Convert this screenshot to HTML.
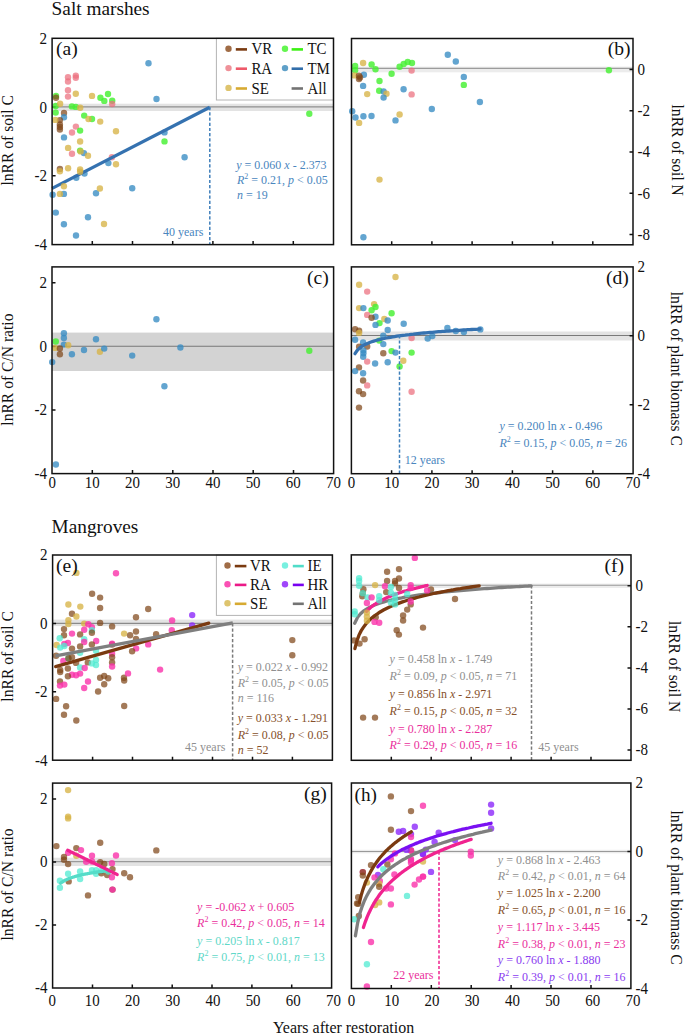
<!DOCTYPE html><html><head><meta charset="utf-8"><style>html,body{margin:0;padding:0;background:#fff;overflow:hidden}svg{display:block}</style></head><body>
<svg width="685" height="1034" viewBox="0 0 685 1034" style="font-family:'Liberation Serif',serif;font-size:16px" fill="#111">
<rect width="685" height="1034" fill="#fff"/>
<rect x="52.1" y="103.7" width="281.4" height="7.3" fill="#e3e3e3"/>
<line x1="52.1" y1="106.9" x2="333.5" y2="106.9" stroke="#8f8f8f" stroke-width="1.1"/>
<path d="M92.3 244.6v-3.5 M132.5 244.6v-3.5 M172.7 244.6v-3.5 M212.9 244.6v-3.5 M253.1 244.6v-3.5 M293.3 244.6v-3.5 M52.1 107.1h3.5 M52.1 175.8h3.5" stroke="#111" stroke-width="1.5" fill="none"/>
<circle cx="68" cy="77.3" r="3.2" fill="rgba(236,110,125,0.72)"/>
<circle cx="68" cy="81.5" r="3.2" fill="rgba(236,110,125,0.72)"/>
<circle cx="75.8" cy="75.6" r="3.2" fill="rgba(236,110,125,0.72)"/>
<circle cx="75.8" cy="77.8" r="3.2" fill="rgba(236,110,125,0.72)"/>
<circle cx="68" cy="90.2" r="3.2" fill="rgba(236,110,125,0.72)"/>
<circle cx="68" cy="96.6" r="3.2" fill="rgba(236,110,125,0.72)"/>
<circle cx="100.4" cy="97.8" r="3.2" fill="rgba(70,240,50,0.82)"/>
<circle cx="104.3" cy="100.9" r="3.2" fill="rgba(70,240,50,0.82)"/>
<circle cx="108" cy="94" r="3.2" fill="rgba(70,240,50,0.82)"/>
<circle cx="112.2" cy="100.8" r="3.2" fill="rgba(70,240,50,0.82)"/>
<circle cx="112.2" cy="104" r="3.2" fill="rgba(236,110,125,0.72)"/>
<circle cx="56" cy="95.9" r="3.2" fill="rgba(70,240,50,0.82)"/>
<circle cx="56" cy="97.7" r="3.2" fill="rgba(128,70,25,0.72)"/>
<circle cx="55.7" cy="106" r="3.2" fill="rgba(70,240,50,0.82)"/>
<circle cx="71.9" cy="106.4" r="3.2" fill="rgba(70,240,50,0.82)"/>
<circle cx="75.8" cy="106.9" r="3.2" fill="rgba(70,240,50,0.82)"/>
<circle cx="55.7" cy="112.6" r="3.2" fill="rgba(70,240,50,0.82)"/>
<circle cx="64" cy="113" r="3.2" fill="rgba(128,70,25,0.72)"/>
<circle cx="64" cy="117.3" r="3.2" fill="rgba(55,140,195,0.78)"/>
<circle cx="84.2" cy="115.6" r="3.2" fill="rgba(70,240,50,0.82)"/>
<circle cx="92" cy="119" r="3.2" fill="rgba(70,240,50,0.82)"/>
<circle cx="59.9" cy="120.1" r="3.2" fill="rgba(128,70,25,0.72)"/>
<circle cx="59.9" cy="124.5" r="3.2" fill="rgba(128,70,25,0.72)"/>
<circle cx="59.9" cy="127" r="3.2" fill="rgba(128,70,25,0.72)"/>
<circle cx="59.9" cy="129.5" r="3.2" fill="rgba(128,70,25,0.72)"/>
<circle cx="75.9" cy="126.6" r="3.2" fill="rgba(236,110,125,0.72)"/>
<circle cx="72" cy="132.5" r="3.2" fill="rgba(236,110,125,0.72)"/>
<circle cx="80.1" cy="130.6" r="3.2" fill="rgba(70,240,50,0.82)"/>
<circle cx="64" cy="137.4" r="3.2" fill="rgba(55,140,195,0.78)"/>
<circle cx="72" cy="153.7" r="3.2" fill="rgba(236,110,125,0.72)"/>
<circle cx="80.1" cy="150.6" r="3.2" fill="rgba(70,240,50,0.82)"/>
<circle cx="83.9" cy="153.1" r="3.2" fill="rgba(55,140,195,0.78)"/>
<circle cx="111.9" cy="157.2" r="3.2" fill="rgba(236,110,125,0.72)"/>
<circle cx="108.4" cy="163.1" r="3.2" fill="rgba(55,140,195,0.78)"/>
<circle cx="59.9" cy="168.9" r="3.2" fill="rgba(128,70,25,0.72)"/>
<circle cx="84.5" cy="173.6" r="3.2" fill="rgba(55,140,195,0.78)"/>
<circle cx="76.3" cy="177.7" r="3.2" fill="rgba(55,140,195,0.78)"/>
<circle cx="52.6" cy="194.7" r="3.2" fill="rgba(55,140,195,0.78)"/>
<circle cx="63.9" cy="193.9" r="3.2" fill="rgba(55,140,195,0.78)"/>
<circle cx="96" cy="193.3" r="3.2" fill="rgba(55,140,195,0.78)"/>
<circle cx="132.2" cy="188.2" r="3.2" fill="rgba(55,140,195,0.78)"/>
<circle cx="55.8" cy="212.6" r="3.2" fill="rgba(55,140,195,0.78)"/>
<circle cx="88" cy="217.2" r="3.2" fill="rgba(55,140,195,0.78)"/>
<circle cx="63.9" cy="224.2" r="3.2" fill="rgba(55,140,195,0.78)"/>
<circle cx="76" cy="235.5" r="3.2" fill="rgba(55,140,195,0.78)"/>
<circle cx="148.5" cy="63.3" r="3.2" fill="rgba(55,140,195,0.78)"/>
<circle cx="156.5" cy="99" r="3.2" fill="rgba(55,140,195,0.78)"/>
<circle cx="164.5" cy="132.4" r="3.2" fill="rgba(55,140,195,0.78)"/>
<circle cx="164.5" cy="141.4" r="3.2" fill="rgba(70,240,50,0.82)"/>
<circle cx="184.6" cy="157.2" r="3.2" fill="rgba(55,140,195,0.78)"/>
<circle cx="309.3" cy="113.7" r="3.2" fill="rgba(70,240,50,0.82)"/>
<line x1="52.1" y1="188.4" x2="209.8" y2="107.3" stroke="#3572b0" stroke-width="3.3"/>
<line x1="209.8" y1="107.1" x2="209.8" y2="244" stroke="#3f7fba" stroke-width="1.5" stroke-dasharray="3.2 2"/>
<circle cx="75.8" cy="93.7" r="3.2" fill="rgba(215,180,70,0.78)"/>
<circle cx="92" cy="95.9" r="3.2" fill="rgba(215,180,70,0.78)"/>
<circle cx="60.1" cy="103.8" r="3.2" fill="rgba(215,180,70,0.78)"/>
<circle cx="80.2" cy="107.7" r="3.2" fill="rgba(215,180,70,0.78)"/>
<circle cx="88.5" cy="119" r="3.2" fill="rgba(215,180,70,0.78)"/>
<circle cx="100.2" cy="121.6" r="3.2" fill="rgba(215,180,70,0.78)"/>
<circle cx="55.3" cy="119.9" r="3.2" fill="rgba(215,180,70,0.78)"/>
<circle cx="80.1" cy="141.5" r="3.2" fill="rgba(215,180,70,0.78)"/>
<circle cx="68.1" cy="147.9" r="3.2" fill="rgba(215,180,70,0.78)"/>
<circle cx="80.6" cy="151.4" r="3.2" fill="rgba(215,180,70,0.78)"/>
<circle cx="88" cy="155.8" r="3.2" fill="rgba(215,180,70,0.78)"/>
<circle cx="116" cy="131.3" r="3.2" fill="rgba(215,180,70,0.78)"/>
<circle cx="116" cy="164.2" r="3.2" fill="rgba(215,180,70,0.78)"/>
<circle cx="59.9" cy="171.2" r="3.2" fill="rgba(215,180,70,0.78)"/>
<circle cx="68.1" cy="168.3" r="3.2" fill="rgba(215,180,70,0.78)"/>
<circle cx="80.1" cy="169.5" r="3.2" fill="rgba(215,180,70,0.78)"/>
<circle cx="80.1" cy="171.8" r="3.2" fill="rgba(215,180,70,0.78)"/>
<circle cx="59.9" cy="193.9" r="3.2" fill="rgba(215,180,70,0.78)"/>
<circle cx="63.9" cy="186.3" r="3.2" fill="rgba(215,180,70,0.78)"/>
<circle cx="99.9" cy="188.5" r="3.2" fill="rgba(215,180,70,0.78)"/>
<circle cx="104" cy="224" r="3.2" fill="rgba(215,180,70,0.78)"/>
<text transform="translate(163,235.5) scale(1.0,1.1)" font-size="12" fill="#4a86be">40 years</text>
<text transform="translate(236.2,168.7) scale(1.0,1.1)" font-size="12" fill="#4a86be"><tspan font-style="italic">y</tspan> = 0.060 <tspan font-style="italic">x</tspan> - 2.373</text>
<text transform="translate(237,184.3) scale(1.0,1.1)" font-size="12" fill="#4a86be"><tspan font-style="italic">R</tspan><tspan dy="-4.5" font-size="8">2</tspan><tspan dy="4.5"> = 0.21, </tspan><tspan font-style="italic">p</tspan> &lt; 0.05</text>
<text transform="translate(237,199.2) scale(1.0,1.1)" font-size="12" fill="#4a86be"><tspan font-style="italic">n</tspan> = 19</text>
<rect x="216.4" y="38.3" width="117.1" height="61.7" fill="#fff" stroke="#b4b4b4" stroke-width="1"/>
<circle cx="228.5" cy="48.8" r="3.2" fill="#A06C46"/>
<line x1="235.8" y1="49.4" x2="247" y2="49.4" stroke="#7A3A10" stroke-width="2.6"/>
<text transform="translate(251.4,54.4) scale(0.97,1.05)" font-size="15.4" fill="#111">VR</text>
<circle cx="228.5" cy="68.1" r="3.2" fill="#EF9199"/>
<line x1="235.8" y1="68.69999999999999" x2="247" y2="68.69999999999999" stroke="#EE5A6A" stroke-width="2.6"/>
<text transform="translate(251.4,73.7) scale(0.97,1.05)" font-size="15.4" fill="#111">RA</text>
<circle cx="228.5" cy="87.9" r="3.2" fill="#DEC46E"/>
<line x1="235.8" y1="88.5" x2="247" y2="88.5" stroke="#D7AA32" stroke-width="2.6"/>
<text transform="translate(251.4,93.5) scale(0.97,1.05)" font-size="15.4" fill="#111">SE</text>
<circle cx="285" cy="48.8" r="3.2" fill="#64F550"/>
<line x1="291.6" y1="49.4" x2="303" y2="49.4" stroke="#3CF014" stroke-width="2.6"/>
<text transform="translate(307.5,54.4) scale(0.97,1.05)" font-size="15.4" fill="#111">TC</text>
<circle cx="285" cy="68.1" r="3.2" fill="#5FA0C8"/>
<line x1="291.6" y1="68.69999999999999" x2="303" y2="68.69999999999999" stroke="#326EAA" stroke-width="2.6"/>
<text transform="translate(307.5,73.7) scale(0.97,1.05)" font-size="15.4" fill="#111">TM</text>
<line x1="291.6" y1="88.5" x2="303" y2="88.5" stroke="#737373" stroke-width="2.6"/>
<text transform="translate(307.5,93.5) scale(0.97,1.05)" font-size="15.4" fill="#111">All</text>
<text x="56" y="54.9" font-size="19.6" fill="#111">(a)</text>
<rect x="52.1" y="38.3" width="281.4" height="206.3" fill="none" stroke="#111" stroke-width="1.5"/>
<text transform="translate(47.1,43.7) scale(0.985,1.1)" font-size="15.3" text-anchor="end">2</text>
<text transform="translate(47.1,112.5) scale(0.985,1.1)" font-size="15.3" text-anchor="end">0</text>
<text transform="translate(47.1,181.2) scale(0.985,1.1)" font-size="15.3" text-anchor="end">-2</text>
<text transform="translate(47.1,250) scale(0.985,1.1)" font-size="15.3" text-anchor="end">-4</text>
<rect x="351.5" y="66.6" width="281.5" height="5.7" fill="#ececec"/>
<line x1="351.5" y1="68.4" x2="633" y2="68.4" stroke="#9c9c9c" stroke-width="1.1"/>
<path d="M391.7 244.8v-3.5 M431.9 244.8v-3.5 M472.1 244.8v-3.5 M512.4 244.8v-3.5 M552.6 244.8v-3.5 M592.8 244.8v-3.5 M633 69.4h-3.5 M633 110.7h-3.5 M633 152h-3.5 M633 193.2h-3.5 M633 234.5h-3.5" stroke="#111" stroke-width="1.5" fill="none"/>
<circle cx="447.8" cy="54.7" r="3.2" fill="rgba(55,140,195,0.78)"/>
<circle cx="363.1" cy="63" r="3.2" fill="rgba(215,180,70,0.78)"/>
<circle cx="355.1" cy="65.9" r="3.2" fill="rgba(70,240,50,0.82)"/>
<circle cx="355.1" cy="70.3" r="3.2" fill="rgba(70,240,50,0.82)"/>
<circle cx="371.6" cy="64.5" r="3.2" fill="rgba(70,240,50,0.82)"/>
<circle cx="375.5" cy="69.3" r="3.2" fill="rgba(70,240,50,0.82)"/>
<circle cx="399.6" cy="66.7" r="3.2" fill="rgba(70,240,50,0.82)"/>
<circle cx="403.7" cy="64" r="3.2" fill="rgba(70,240,50,0.82)"/>
<circle cx="407.7" cy="62" r="3.2" fill="rgba(70,240,50,0.82)"/>
<circle cx="412" cy="63" r="3.2" fill="rgba(70,240,50,0.82)"/>
<circle cx="411.6" cy="70.6" r="3.2" fill="rgba(236,110,125,0.72)"/>
<circle cx="391.6" cy="73.7" r="3.2" fill="rgba(70,240,50,0.82)"/>
<circle cx="354.4" cy="75.4" r="3.2" fill="rgba(215,180,70,0.78)"/>
<circle cx="363.9" cy="74.7" r="3.2" fill="rgba(55,140,195,0.78)"/>
<circle cx="359" cy="75.7" r="3.2" fill="rgba(128,70,25,0.72)"/>
<circle cx="359" cy="79.1" r="3.2" fill="rgba(128,70,25,0.72)"/>
<circle cx="360" cy="77.5" r="3.2" fill="rgba(128,70,25,0.72)"/>
<circle cx="379.5" cy="81" r="3.2" fill="rgba(70,240,50,0.82)"/>
<circle cx="363.1" cy="85.9" r="3.2" fill="rgba(55,140,195,0.78)"/>
<circle cx="379.2" cy="90.7" r="3.2" fill="rgba(70,240,50,0.82)"/>
<circle cx="383.6" cy="91.5" r="3.2" fill="rgba(55,140,195,0.78)"/>
<circle cx="386.5" cy="93.7" r="3.2" fill="rgba(215,180,70,0.78)"/>
<circle cx="383.6" cy="97.6" r="3.2" fill="rgba(55,140,195,0.78)"/>
<circle cx="367.2" cy="94.1" r="3.2" fill="rgba(215,180,70,0.78)"/>
<circle cx="403.6" cy="89.3" r="3.2" fill="rgba(55,140,195,0.78)"/>
<circle cx="411.6" cy="94.4" r="3.2" fill="rgba(236,110,125,0.72)"/>
<circle cx="431.8" cy="109" r="3.2" fill="rgba(55,140,195,0.78)"/>
<circle cx="352.2" cy="111.2" r="3.2" fill="rgba(55,140,195,0.78)"/>
<circle cx="355.5" cy="117.5" r="3.2" fill="rgba(55,140,195,0.78)"/>
<circle cx="363.4" cy="116.3" r="3.2" fill="rgba(55,140,195,0.78)"/>
<circle cx="371.5" cy="116" r="3.2" fill="rgba(55,140,195,0.78)"/>
<circle cx="359.1" cy="122.9" r="3.2" fill="rgba(215,180,70,0.78)"/>
<circle cx="399.6" cy="114.5" r="3.2" fill="rgba(215,180,70,0.78)"/>
<circle cx="395.5" cy="120.4" r="3.2" fill="rgba(55,140,195,0.78)"/>
<circle cx="455.8" cy="61.5" r="3.2" fill="rgba(55,140,195,0.78)"/>
<circle cx="463.8" cy="76.9" r="3.2" fill="rgba(55,140,195,0.78)"/>
<circle cx="463.8" cy="84.9" r="3.2" fill="rgba(70,240,50,0.82)"/>
<circle cx="479.9" cy="102" r="3.2" fill="rgba(55,140,195,0.78)"/>
<circle cx="379.5" cy="179.6" r="3.2" fill="rgba(215,180,70,0.78)"/>
<circle cx="363.4" cy="237.3" r="3.2" fill="rgba(55,140,195,0.78)"/>
<circle cx="608.9" cy="70.3" r="3.2" fill="rgba(70,240,50,0.82)"/>
<text x="607.7" y="54.9" font-size="19.6" fill="#111">(b)</text>
<rect x="351.5" y="38.5" width="281.5" height="206.3" fill="none" stroke="#111" stroke-width="1.5"/>
<text transform="translate(637.5,74.8) scale(0.985,1.1)" font-size="15.3">0</text>
<text transform="translate(637.5,116.1) scale(0.985,1.1)" font-size="15.3">-2</text>
<text transform="translate(637.5,157.4) scale(0.985,1.1)" font-size="15.3">-4</text>
<text transform="translate(637.5,198.6) scale(0.985,1.1)" font-size="15.3">-6</text>
<text transform="translate(637.5,239.9) scale(0.985,1.1)" font-size="15.3">-8</text>
<rect x="52" y="332.6" width="281.6" height="38.4" fill="#d3d3d3"/>
<line x1="52" y1="346.3" x2="333.7" y2="346.3" stroke="#777" stroke-width="1.1"/>
<path d="M92.3 473.6v-3.5 M132.5 473.6v-3.5 M172.8 473.6v-3.5 M213 473.6v-3.5 M253.2 473.6v-3.5 M293.5 473.6v-3.5 M52 282.8h3.5 M52 346.4h3.5 M52 410h3.5" stroke="#111" stroke-width="1.5" fill="none"/>
<circle cx="63.9" cy="333.3" r="3.2" fill="rgba(55,140,195,0.78)"/>
<circle cx="63.9" cy="338" r="3.2" fill="rgba(55,140,195,0.78)"/>
<circle cx="63.9" cy="344.6" r="3.2" fill="rgba(55,140,195,0.78)"/>
<circle cx="68.2" cy="345.3" r="3.2" fill="rgba(215,180,70,0.78)"/>
<circle cx="55.1" cy="347.9" r="3.2" fill="rgba(215,180,70,0.78)"/>
<circle cx="55.8" cy="341.5" r="3.2" fill="rgba(70,240,50,0.82)"/>
<circle cx="59.9" cy="348.5" r="3.2" fill="rgba(128,70,25,0.72)"/>
<circle cx="59.9" cy="354.3" r="3.2" fill="rgba(128,70,25,0.72)"/>
<circle cx="71.9" cy="354.2" r="3.2" fill="rgba(55,140,195,0.78)"/>
<circle cx="84" cy="350" r="3.2" fill="rgba(55,140,195,0.78)"/>
<circle cx="96" cy="339.2" r="3.2" fill="rgba(55,140,195,0.78)"/>
<circle cx="99.9" cy="351.8" r="3.2" fill="rgba(215,180,70,0.78)"/>
<circle cx="104.2" cy="348.6" r="3.2" fill="rgba(55,140,195,0.78)"/>
<circle cx="132.2" cy="355.6" r="3.2" fill="rgba(55,140,195,0.78)"/>
<circle cx="52.2" cy="362.1" r="3.2" fill="rgba(55,140,195,0.78)"/>
<circle cx="180.4" cy="347.5" r="3.2" fill="rgba(55,140,195,0.78)"/>
<circle cx="164.4" cy="386.2" r="3.2" fill="rgba(55,140,195,0.78)"/>
<circle cx="55.9" cy="464.5" r="3.2" fill="rgba(55,140,195,0.78)"/>
<circle cx="156.4" cy="319.3" r="3.2" fill="rgba(55,140,195,0.78)"/>
<circle cx="309.3" cy="350.8" r="3.2" fill="rgba(70,240,50,0.82)"/>
<text x="307" y="283.9" font-size="19.6" fill="#111">(c)</text>
<rect x="52" y="266.9" width="281.6" height="206.7" fill="none" stroke="#111" stroke-width="1.5"/>
<text transform="translate(47,288.2) scale(0.985,1.1)" font-size="15.3" text-anchor="end">2</text>
<text transform="translate(47,351.8) scale(0.985,1.1)" font-size="15.3" text-anchor="end">0</text>
<text transform="translate(47,415.4) scale(0.985,1.1)" font-size="15.3" text-anchor="end">-2</text>
<text transform="translate(47,479) scale(0.985,1.1)" font-size="15.3" text-anchor="end">-4</text>
<rect x="351.4" y="331.5" width="281.7" height="9" fill="#e3e3e3"/>
<line x1="351.4" y1="335.5" x2="633.1" y2="335.5" stroke="#7a7a7a" stroke-width="1.1"/>
<path d="M391.6 473.7v-3.5 M431.9 473.7v-3.5 M472.1 473.7v-3.5 M512.4 473.7v-3.5 M552.6 473.7v-3.5 M592.9 473.7v-3.5 M633.1 335.8h-3.5 M633.1 404.8h-3.5" stroke="#111" stroke-width="1.5" fill="none"/>
<circle cx="395.5" cy="277" r="3.2" fill="rgba(215,180,70,0.78)"/>
<circle cx="359.1" cy="284.7" r="3.2" fill="rgba(215,180,70,0.78)"/>
<circle cx="367.2" cy="291.6" r="3.2" fill="rgba(236,110,125,0.72)"/>
<circle cx="374.1" cy="304.1" r="3.2" fill="rgba(215,180,70,0.78)"/>
<circle cx="359.1" cy="308.1" r="3.2" fill="rgba(215,180,70,0.78)"/>
<circle cx="363.4" cy="308.1" r="3.2" fill="rgba(55,140,195,0.78)"/>
<circle cx="375.5" cy="307" r="3.2" fill="rgba(70,240,50,0.82)"/>
<circle cx="371.6" cy="310.3" r="3.2" fill="rgba(70,240,50,0.82)"/>
<circle cx="391.6" cy="313.2" r="3.2" fill="rgba(70,240,50,0.82)"/>
<circle cx="367.2" cy="314.9" r="3.2" fill="rgba(236,110,125,0.72)"/>
<circle cx="375.5" cy="316.8" r="3.2" fill="rgba(55,140,195,0.78)"/>
<circle cx="371.6" cy="317.8" r="3.2" fill="rgba(128,70,25,0.72)"/>
<circle cx="384.3" cy="319" r="3.2" fill="rgba(215,180,70,0.78)"/>
<circle cx="387.7" cy="320.5" r="3.2" fill="rgba(55,140,195,0.78)"/>
<circle cx="379.5" cy="323.1" r="3.2" fill="rgba(70,240,50,0.82)"/>
<circle cx="375.5" cy="324.9" r="3.2" fill="rgba(55,140,195,0.78)"/>
<circle cx="403.7" cy="323.7" r="3.2" fill="rgba(55,140,195,0.78)"/>
<circle cx="355.1" cy="329.2" r="3.2" fill="rgba(128,70,25,0.72)"/>
<circle cx="359.1" cy="330.7" r="3.2" fill="rgba(128,70,25,0.72)"/>
<circle cx="359.1" cy="332.9" r="3.2" fill="rgba(215,180,70,0.78)"/>
<circle cx="387.7" cy="330" r="3.2" fill="rgba(55,140,195,0.78)"/>
<circle cx="383.3" cy="335.8" r="3.2" fill="rgba(55,140,195,0.78)"/>
<circle cx="355.1" cy="339.7" r="3.2" fill="rgba(55,140,195,0.78)"/>
<circle cx="379.2" cy="340.6" r="3.2" fill="rgba(70,240,50,0.82)"/>
<circle cx="363.1" cy="342.4" r="3.2" fill="rgba(55,140,195,0.78)"/>
<circle cx="383.3" cy="344.1" r="3.2" fill="rgba(55,140,195,0.78)"/>
<circle cx="359.1" cy="346.8" r="3.2" fill="rgba(128,70,25,0.72)"/>
<circle cx="367.2" cy="346.5" r="3.2" fill="rgba(128,70,25,0.72)"/>
<circle cx="411.6" cy="338" r="3.2" fill="rgba(236,110,125,0.72)"/>
<circle cx="427.7" cy="338.6" r="3.2" fill="rgba(55,140,195,0.78)"/>
<circle cx="432.3" cy="336.1" r="3.2" fill="rgba(55,140,195,0.78)"/>
<circle cx="447.4" cy="327.9" r="3.2" fill="rgba(55,140,195,0.78)"/>
<circle cx="455.8" cy="331" r="3.2" fill="rgba(55,140,195,0.78)"/>
<circle cx="463.9" cy="332" r="3.2" fill="rgba(55,140,195,0.78)"/>
<circle cx="480.3" cy="329.4" r="3.2" fill="rgba(55,140,195,0.78)"/>
<circle cx="363.4" cy="350.4" r="3.2" fill="rgba(55,140,195,0.78)"/>
<circle cx="363.4" cy="353.3" r="3.2" fill="rgba(55,140,195,0.78)"/>
<circle cx="363.2" cy="356.8" r="3.2" fill="rgba(55,140,195,0.78)"/>
<circle cx="383.3" cy="353.3" r="3.2" fill="rgba(128,70,25,0.72)"/>
<circle cx="391.6" cy="351.1" r="3.2" fill="rgba(70,240,50,0.82)"/>
<circle cx="395.5" cy="352.6" r="3.2" fill="rgba(55,140,195,0.78)"/>
<circle cx="411.6" cy="352.6" r="3.2" fill="rgba(70,240,50,0.82)"/>
<circle cx="367.2" cy="361.6" r="3.2" fill="rgba(236,110,125,0.72)"/>
<circle cx="375.1" cy="363.5" r="3.2" fill="rgba(55,140,195,0.78)"/>
<circle cx="387.7" cy="362.3" r="3.2" fill="rgba(55,140,195,0.78)"/>
<circle cx="403.3" cy="360.8" r="3.2" fill="rgba(215,180,70,0.78)"/>
<circle cx="399.6" cy="366.4" r="3.2" fill="rgba(70,240,50,0.82)"/>
<circle cx="359" cy="367.4" r="3.2" fill="rgba(128,70,25,0.72)"/>
<circle cx="355.1" cy="371.1" r="3.2" fill="rgba(55,140,195,0.78)"/>
<circle cx="363.1" cy="373.2" r="3.2" fill="rgba(55,140,195,0.78)"/>
<circle cx="363.1" cy="380.5" r="3.2" fill="rgba(128,70,25,0.72)"/>
<circle cx="367.2" cy="385.4" r="3.2" fill="rgba(236,110,125,0.72)"/>
<circle cx="359" cy="391.2" r="3.2" fill="rgba(128,70,25,0.72)"/>
<circle cx="363.1" cy="394.1" r="3.2" fill="rgba(128,70,25,0.72)"/>
<circle cx="411.6" cy="391.8" r="3.2" fill="rgba(236,110,125,0.72)"/>
<circle cx="359" cy="407.6" r="3.2" fill="rgba(128,70,25,0.72)"/>
<polyline points="355.0,353.7 357.1,350.5 359.2,348.4 361.3,346.7 363.4,345.4 365.5,344.3 367.5,343.4 369.6,342.5 371.7,341.8 373.8,341.1 375.9,340.5 378.0,339.9 380.1,339.4 382.1,338.9 384.2,338.5 386.3,338.0 388.4,337.6 390.5,337.3 392.6,336.9 394.7,336.6 396.7,336.2 398.8,335.9 400.9,335.6 403.0,335.3 405.1,335.1 407.2,334.8 409.3,334.6 411.3,334.3 413.4,334.1 415.5,333.8 417.6,333.6 419.7,333.4 421.8,333.2 423.9,333.0 425.9,332.8 428.0,332.6 430.1,332.4 432.2,332.3 434.3,332.1 436.4,331.9 438.5,331.7 440.5,331.6 442.6,331.4 444.7,331.3 446.8,331.1 448.9,331.0 451.0,330.8 453.1,330.7 455.1,330.5 457.2,330.4 459.3,330.3 461.4,330.1 463.5,330.0 465.6,329.9 467.7,329.7 469.7,329.6 471.8,329.5 473.9,329.4 476.0,329.3 478.1,329.2 480.2,329.0" fill="none" stroke="#3572b0" stroke-width="3.3" stroke-linecap="round"/>
<line x1="399.5" y1="335.2" x2="399.5" y2="474" stroke="#3f7fba" stroke-width="1.5" stroke-dasharray="3.2 2"/>
<text transform="translate(404.7,463.8) scale(1.0,1.1)" font-size="12" fill="#4a86be">12 years</text>
<text transform="translate(499.4,430) scale(1.0,1.1)" font-size="12" fill="#4a86be"><tspan font-style="italic">y</tspan> = 0.200 ln <tspan font-style="italic">x</tspan> - 0.496</text>
<text transform="translate(499.4,446.7) scale(1.0,1.1)" font-size="12" fill="#4a86be"><tspan font-style="italic">R</tspan><tspan dy="-4.5" font-size="8">2</tspan><tspan dy="4.5"> = 0.15, </tspan><tspan font-style="italic">p</tspan> &lt; 0.05, <tspan font-style="italic">n</tspan> = 26</text>
<text x="606" y="284.4" font-size="19.6" fill="#111">(d)</text>
<rect x="351.4" y="266.9" width="281.7" height="206.8" fill="none" stroke="#111" stroke-width="1.5"/>
<text transform="translate(637.6,272.3) scale(0.985,1.1)" font-size="15.3">2</text>
<text transform="translate(637.6,341.2) scale(0.985,1.1)" font-size="15.3">0</text>
<text transform="translate(637.6,410.2) scale(0.985,1.1)" font-size="15.3">-2</text>
<text transform="translate(637.6,479.1) scale(0.985,1.1)" font-size="15.3">-4</text>
<rect x="52.6" y="619.6" width="279.8" height="6.5" fill="#e3e3e3"/>
<line x1="52.6" y1="623.4" x2="332.4" y2="623.4" stroke="#8a8a8a" stroke-width="1.1"/>
<path d="M92.6 760.2v-3.5 M132.5 760.2v-3.5 M172.5 760.2v-3.5 M212.5 760.2v-3.5 M252.5 760.2v-3.5 M292.4 760.2v-3.5 M52.6 623.4h3.5 M52.6 691.8h3.5" stroke="#111" stroke-width="1.5" fill="none"/>
<circle cx="76.4" cy="572.9" r="3.2" fill="rgba(215,180,70,0.78)"/>
<circle cx="116" cy="573.3" r="3.2" fill="rgba(250,50,170,0.8)"/>
<circle cx="92.1" cy="593.7" r="3.2" fill="rgba(128,70,25,0.72)"/>
<circle cx="100.1" cy="597.6" r="3.2" fill="rgba(128,70,25,0.72)"/>
<circle cx="68.4" cy="604.5" r="3.2" fill="rgba(215,180,70,0.78)"/>
<circle cx="80.3" cy="606.6" r="3.2" fill="rgba(215,180,70,0.78)"/>
<circle cx="100.1" cy="608" r="3.2" fill="rgba(128,70,25,0.72)"/>
<circle cx="72" cy="613.7" r="3.2" fill="rgba(128,70,25,0.72)"/>
<circle cx="76.4" cy="616.5" r="3.2" fill="rgba(215,180,70,0.78)"/>
<circle cx="68.4" cy="620.1" r="3.2" fill="rgba(215,180,70,0.78)"/>
<circle cx="68.4" cy="624" r="3.2" fill="rgba(215,180,70,0.78)"/>
<circle cx="84.2" cy="623.6" r="3.2" fill="rgba(215,180,70,0.78)"/>
<circle cx="88.3" cy="624.2" r="3.2" fill="rgba(250,50,170,0.8)"/>
<circle cx="100.1" cy="622.9" r="3.2" fill="rgba(128,70,25,0.72)"/>
<circle cx="112.1" cy="626.4" r="3.2" fill="rgba(128,70,25,0.72)"/>
<circle cx="64" cy="629.1" r="3.2" fill="rgba(128,70,25,0.72)"/>
<circle cx="84.2" cy="629.8" r="3.2" fill="rgba(250,50,170,0.8)"/>
<circle cx="91.9" cy="627.2" r="3.2" fill="rgba(250,50,170,0.8)"/>
<circle cx="91.9" cy="630.3" r="3.2" fill="rgba(80,235,210,0.75)"/>
<circle cx="91.9" cy="632.8" r="3.2" fill="rgba(128,70,25,0.72)"/>
<circle cx="72" cy="633.6" r="3.2" fill="rgba(250,50,170,0.8)"/>
<circle cx="64" cy="635.2" r="3.2" fill="rgba(128,70,25,0.72)"/>
<circle cx="80.1" cy="634.4" r="3.2" fill="rgba(128,70,25,0.72)"/>
<circle cx="59.7" cy="638.2" r="3.2" fill="rgba(80,235,210,0.75)"/>
<circle cx="84.2" cy="639.2" r="3.2" fill="rgba(80,235,210,0.75)"/>
<circle cx="84.2" cy="642" r="3.2" fill="rgba(250,50,170,0.8)"/>
<circle cx="96.2" cy="641" r="3.2" fill="rgba(250,50,170,0.8)"/>
<circle cx="91.9" cy="644.5" r="3.2" fill="rgba(128,70,25,0.72)"/>
<circle cx="56.6" cy="645" r="3.2" fill="rgba(215,180,70,0.78)"/>
<circle cx="67.9" cy="643" r="3.2" fill="rgba(250,50,170,0.8)"/>
<circle cx="64.3" cy="644" r="3.2" fill="rgba(250,50,170,0.8)"/>
<circle cx="64.3" cy="646" r="3.2" fill="rgba(80,235,210,0.75)"/>
<circle cx="60.2" cy="647.6" r="3.2" fill="rgba(80,235,210,0.75)"/>
<circle cx="72" cy="648.6" r="3.2" fill="rgba(128,70,25,0.72)"/>
<circle cx="80.1" cy="646.4" r="3.2" fill="rgba(128,70,25,0.72)"/>
<circle cx="80.1" cy="652.7" r="3.2" fill="rgba(80,235,210,0.75)"/>
<circle cx="96" cy="650.7" r="3.2" fill="rgba(80,235,210,0.75)"/>
<circle cx="112.1" cy="644.5" r="3.2" fill="rgba(128,70,25,0.72)"/>
<circle cx="112.1" cy="643.8" r="3.2" fill="rgba(250,50,170,0.8)"/>
<circle cx="112.1" cy="653.7" r="3.2" fill="rgba(250,50,170,0.8)"/>
<circle cx="112.1" cy="657.3" r="3.2" fill="rgba(128,70,25,0.72)"/>
<circle cx="112.1" cy="662.4" r="3.2" fill="rgba(128,70,25,0.72)"/>
<circle cx="112.1" cy="666.5" r="3.2" fill="rgba(250,50,170,0.8)"/>
<circle cx="56.1" cy="655.8" r="3.2" fill="rgba(128,70,25,0.72)"/>
<circle cx="63.3" cy="660.9" r="3.2" fill="rgba(250,50,170,0.8)"/>
<circle cx="68.4" cy="658.3" r="3.2" fill="rgba(80,235,210,0.75)"/>
<circle cx="68.4" cy="658.3" r="3.2" fill="rgba(128,70,25,0.72)"/>
<circle cx="72" cy="657.3" r="3.2" fill="rgba(128,70,25,0.72)"/>
<circle cx="76.1" cy="662.9" r="3.2" fill="rgba(128,70,25,0.72)"/>
<circle cx="87.8" cy="662.4" r="3.2" fill="rgba(128,70,25,0.72)"/>
<circle cx="96" cy="659.9" r="3.2" fill="rgba(80,235,210,0.75)"/>
<circle cx="96" cy="665" r="3.2" fill="rgba(80,235,210,0.75)"/>
<circle cx="91.9" cy="663.4" r="3.2" fill="rgba(80,235,210,0.75)"/>
<circle cx="60.2" cy="670" r="3.2" fill="rgba(128,70,25,0.72)"/>
<circle cx="60.2" cy="672.1" r="3.2" fill="rgba(128,70,25,0.72)"/>
<circle cx="67.9" cy="668.5" r="3.2" fill="rgba(128,70,25,0.72)"/>
<circle cx="80.1" cy="667.5" r="3.2" fill="rgba(80,235,210,0.75)"/>
<circle cx="84.7" cy="668" r="3.2" fill="rgba(250,50,170,0.8)"/>
<circle cx="72" cy="674.7" r="3.2" fill="rgba(250,50,170,0.8)"/>
<circle cx="76.1" cy="675.2" r="3.2" fill="rgba(250,50,170,0.8)"/>
<circle cx="80.1" cy="673.6" r="3.2" fill="rgba(250,50,170,0.8)"/>
<circle cx="67.9" cy="676.2" r="3.2" fill="rgba(128,70,25,0.72)"/>
<circle cx="100.1" cy="677.7" r="3.2" fill="rgba(128,70,25,0.72)"/>
<circle cx="104.2" cy="676" r="3.2" fill="rgba(128,70,25,0.72)"/>
<circle cx="108.2" cy="678.2" r="3.2" fill="rgba(128,70,25,0.72)"/>
<circle cx="104.2" cy="684.2" r="3.2" fill="rgba(128,70,25,0.72)"/>
<circle cx="88" cy="681.5" r="3.2" fill="rgba(250,50,170,0.8)"/>
<circle cx="60" cy="681.5" r="3.2" fill="rgba(128,70,25,0.72)"/>
<circle cx="60" cy="685.6" r="3.2" fill="rgba(250,50,170,0.8)"/>
<circle cx="64.3" cy="684.6" r="3.2" fill="rgba(250,50,170,0.8)"/>
<circle cx="84.2" cy="688" r="3.2" fill="rgba(250,50,170,0.8)"/>
<circle cx="98.1" cy="691.5" r="3.2" fill="rgba(128,70,25,0.72)"/>
<circle cx="124.2" cy="680.5" r="3.2" fill="rgba(128,70,25,0.72)"/>
<circle cx="124" cy="677.7" r="3.2" fill="rgba(128,70,25,0.72)"/>
<circle cx="124.2" cy="706" r="3.2" fill="rgba(128,70,25,0.72)"/>
<circle cx="56.1" cy="698.9" r="3.2" fill="rgba(128,70,25,0.72)"/>
<circle cx="66.1" cy="706.3" r="3.2" fill="rgba(128,70,25,0.72)"/>
<circle cx="64" cy="714.7" r="3.2" fill="rgba(128,70,25,0.72)"/>
<circle cx="76.3" cy="720.5" r="3.2" fill="rgba(128,70,25,0.72)"/>
<circle cx="148.2" cy="609" r="3.2" fill="rgba(128,70,25,0.72)"/>
<circle cx="136" cy="617.3" r="3.2" fill="rgba(128,70,25,0.72)"/>
<circle cx="172.1" cy="620.5" r="3.2" fill="rgba(250,50,170,0.8)"/>
<circle cx="192.2" cy="615.1" r="3.2" fill="rgba(140,40,250,0.8)"/>
<circle cx="192.2" cy="625.5" r="3.2" fill="rgba(140,40,250,0.8)"/>
<circle cx="124.1" cy="633.6" r="3.2" fill="rgba(215,180,70,0.78)"/>
<circle cx="130.1" cy="635.2" r="3.2" fill="rgba(128,70,25,0.72)"/>
<circle cx="136" cy="631.5" r="3.2" fill="rgba(128,70,25,0.72)"/>
<circle cx="136" cy="639" r="3.2" fill="rgba(128,70,25,0.72)"/>
<circle cx="171.8" cy="630.3" r="3.2" fill="rgba(250,50,170,0.8)"/>
<circle cx="156.1" cy="634.2" r="3.2" fill="rgba(128,70,25,0.72)"/>
<circle cx="148.2" cy="644.4" r="3.2" fill="rgba(250,50,170,0.8)"/>
<circle cx="136.1" cy="648.4" r="3.2" fill="rgba(250,50,170,0.8)"/>
<circle cx="132.1" cy="651.2" r="3.2" fill="rgba(128,70,25,0.72)"/>
<circle cx="160.1" cy="669.6" r="3.2" fill="rgba(250,50,170,0.8)"/>
<circle cx="128" cy="673.4" r="3.2" fill="rgba(250,50,170,0.8)"/>
<circle cx="292.3" cy="640.1" r="3.2" fill="rgba(128,70,25,0.72)"/>
<circle cx="292.3" cy="655.2" r="3.2" fill="rgba(128,70,25,0.72)"/>
<line x1="55.6" y1="666.6" x2="208.8" y2="623.1" stroke="#7a3a10" stroke-width="3.2" stroke-linecap="round"/>
<line x1="55.6" y1="655.8" x2="232.8" y2="622.9" stroke="#7f7f7f" stroke-width="3.4"/>
<line x1="232.6" y1="623.4" x2="232.6" y2="760" stroke="#7a7a7a" stroke-width="1.5" stroke-dasharray="3.2 2"/>
<text transform="translate(185,750.8) scale(1.0,1.1)" font-size="12" fill="#8f8f8f">45 years</text>
<text transform="translate(237.7,670.5) scale(1.0,1.1)" font-size="12" fill="#8f8f8f"><tspan font-style="italic">y</tspan> = 0.022 <tspan font-style="italic">x</tspan> - 0.992</text>
<text transform="translate(237.7,687.4) scale(1.0,1.1)" font-size="12" fill="#8f8f8f"><tspan font-style="italic">R</tspan><tspan dy="-4.5" font-size="8">2</tspan><tspan dy="4.5"> = 0.05, </tspan><tspan font-style="italic">p</tspan> &lt; 0.05</text>
<text transform="translate(237.7,702.2) scale(1.0,1.1)" font-size="12" fill="#8f8f8f"><tspan font-style="italic">n</tspan> = 116</text>
<text transform="translate(237.7,721.5) scale(1.0,1.1)" font-size="12" fill="#86502a"><tspan font-style="italic">y</tspan> = 0.033 <tspan font-style="italic">x</tspan> - 1.291</text>
<text transform="translate(237.7,739) scale(1.0,1.1)" font-size="12" fill="#86502a"><tspan font-style="italic">R</tspan><tspan dy="-4.5" font-size="8">2</tspan><tspan dy="4.5"> = 0.08, </tspan><tspan font-style="italic">p</tspan> &lt; 0.05</text>
<text transform="translate(237.7,753.9) scale(1.0,1.1)" font-size="12" fill="#86502a"><tspan font-style="italic">n</tspan> = 52</text>
<rect x="216.4" y="555" width="115.99999999999997" height="60.39999999999998" fill="#fff" stroke="#b4b4b4" stroke-width="1"/>
<circle cx="227.5" cy="565.5" r="3.2" fill="#A06C46"/>
<line x1="234.8" y1="566.1" x2="246.4" y2="566.1" stroke="#7A3A10" stroke-width="2.6"/>
<text transform="translate(250.1,571.1) scale(0.97,1.05)" font-size="15.4" fill="#111">VR</text>
<circle cx="227.5" cy="584.3" r="3.2" fill="#FA50B4"/>
<line x1="234.8" y1="584.9" x2="246.4" y2="584.9" stroke="#EB1987" stroke-width="2.6"/>
<text transform="translate(250.1,589.9) scale(0.97,1.05)" font-size="15.4" fill="#111">RA</text>
<circle cx="227.5" cy="603.2" r="3.2" fill="#DEC46E"/>
<line x1="234.8" y1="603.8000000000001" x2="246.4" y2="603.8000000000001" stroke="#D7AA32" stroke-width="2.6"/>
<text transform="translate(250.1,608.8) scale(0.97,1.05)" font-size="15.4" fill="#111">SE</text>
<circle cx="285" cy="565.5" r="3.2" fill="#78F0E0"/>
<line x1="292.8" y1="566.1" x2="303.8" y2="566.1" stroke="#50DCC8" stroke-width="2.6"/>
<text transform="translate(307.5,571.1) scale(0.97,1.05)" font-size="15.4" fill="#111">IE</text>
<circle cx="285" cy="584.3" r="3.2" fill="#A046FA"/>
<line x1="292.8" y1="584.9" x2="303.8" y2="584.9" stroke="#7800F0" stroke-width="2.6"/>
<text transform="translate(307.5,589.9) scale(0.97,1.05)" font-size="15.4" fill="#111">HR</text>
<line x1="292.8" y1="603.8000000000001" x2="303.8" y2="603.8000000000001" stroke="#737373" stroke-width="2.6"/>
<text transform="translate(307.5,608.8) scale(0.97,1.05)" font-size="15.4" fill="#111">All</text>
<text x="56" y="571.6" font-size="19.6" fill="#111">(e)</text>
<rect x="52.6" y="555" width="279.8" height="205.2" fill="none" stroke="#111" stroke-width="1.5"/>
<text transform="translate(47.6,560.4) scale(0.985,1.1)" font-size="15.3" text-anchor="end">2</text>
<text transform="translate(47.6,628.8) scale(0.985,1.1)" font-size="15.3" text-anchor="end">0</text>
<text transform="translate(47.6,697.2) scale(0.985,1.1)" font-size="15.3" text-anchor="end">-2</text>
<text transform="translate(47.6,765.6) scale(0.985,1.1)" font-size="15.3" text-anchor="end">-4</text>
<rect x="351.3" y="583.6" width="279.7" height="4.4" fill="#ececec"/>
<line x1="351.3" y1="585.3" x2="631" y2="585.3" stroke="#9a9a9a" stroke-width="1.1"/>
<path d="M391.3 760.3v-3.5 M431.2 760.3v-3.5 M471.2 760.3v-3.5 M511.1 760.3v-3.5 M551.1 760.3v-3.5 M591 760.3v-3.5 M631 585.7h-3.5 M631 626.8h-3.5 M631 667.9h-3.5 M631 708.9h-3.5 M631 750h-3.5" stroke="#111" stroke-width="1.5" fill="none"/>
<circle cx="387.1" cy="571.7" r="3.2" fill="rgba(128,70,25,0.72)"/>
<circle cx="399" cy="569.1" r="3.2" fill="rgba(128,70,25,0.72)"/>
<circle cx="387.1" cy="581" r="3.2" fill="rgba(128,70,25,0.72)"/>
<circle cx="395" cy="581" r="3.2" fill="rgba(128,70,25,0.72)"/>
<circle cx="395" cy="583.4" r="3.2" fill="rgba(128,70,25,0.72)"/>
<circle cx="399" cy="578.5" r="3.2" fill="rgba(128,70,25,0.72)"/>
<circle cx="399" cy="588" r="3.2" fill="rgba(128,70,25,0.72)"/>
<circle cx="363.4" cy="589.2" r="3.2" fill="rgba(128,70,25,0.72)"/>
<circle cx="362.8" cy="593.3" r="3.2" fill="rgba(128,70,25,0.72)"/>
<circle cx="362.3" cy="596.2" r="3.2" fill="rgba(128,70,25,0.72)"/>
<circle cx="386.2" cy="592.1" r="3.2" fill="rgba(128,70,25,0.72)"/>
<circle cx="410.7" cy="604.4" r="3.2" fill="rgba(128,70,25,0.72)"/>
<circle cx="431" cy="589.5" r="3.2" fill="rgba(128,70,25,0.72)"/>
<circle cx="375.7" cy="617.2" r="3.2" fill="rgba(128,70,25,0.72)"/>
<circle cx="407.2" cy="609.6" r="3.2" fill="rgba(128,70,25,0.72)"/>
<circle cx="403.1" cy="615.5" r="3.2" fill="rgba(128,70,25,0.72)"/>
<circle cx="403.1" cy="620.5" r="3.2" fill="rgba(128,70,25,0.72)"/>
<circle cx="423" cy="627.6" r="3.2" fill="rgba(128,70,25,0.72)"/>
<circle cx="396.7" cy="630.2" r="3.2" fill="rgba(128,70,25,0.72)"/>
<circle cx="398.9" cy="634.6" r="3.2" fill="rgba(128,70,25,0.72)"/>
<circle cx="354.1" cy="640.4" r="3.2" fill="rgba(128,70,25,0.72)"/>
<circle cx="359.5" cy="643.6" r="3.2" fill="rgba(128,70,25,0.72)"/>
<circle cx="364.6" cy="639.3" r="3.2" fill="rgba(128,70,25,0.72)"/>
<circle cx="363.1" cy="717.6" r="3.2" fill="rgba(128,70,25,0.72)"/>
<circle cx="375" cy="717.6" r="3.2" fill="rgba(128,70,25,0.72)"/>
<circle cx="455" cy="599" r="3.2" fill="rgba(128,70,25,0.72)"/>
<polyline points="354.7,623.2 357.6,617.3 360.6,613.7 363.5,611.1 366.5,609.1 369.4,607.4 372.3,606.0 375.3,604.8 378.2,603.7 381.2,602.7 384.1,601.8 387.0,601.0 390.0,600.3 392.9,599.6 395.9,598.9 398.8,598.3 401.7,597.8 404.7,597.2 407.6,596.7 410.6,596.3 413.5,595.8 416.4,595.4 419.4,595.0 422.3,594.6 425.3,594.2 428.2,593.8 431.1,593.5 434.1,593.1 437.0,592.8 440.0,592.5 442.9,592.2 445.8,591.9 448.8,591.6 451.7,591.3 454.7,591.0 457.6,590.8 460.5,590.5 463.5,590.3 466.4,590.0 469.4,589.8 472.3,589.5 475.2,589.3 478.2,589.1 481.1,588.9 484.1,588.7 487.0,588.5 489.9,588.3 492.9,588.1 495.8,587.9 498.8,587.7 501.7,587.5 504.6,587.3 507.6,587.1 510.5,587.0 513.5,586.8 516.4,586.6 519.3,586.5 522.3,586.3 525.2,586.1 528.2,586.0 531.1,585.8" fill="none" stroke="#7f7f7f" stroke-width="3.3" stroke-linecap="round"/>
<polyline points="354.9,648.6 357.0,640.6 359.0,635.1 361.1,630.9 363.2,627.6 365.3,624.7 367.3,622.3 369.4,620.2 371.5,618.3 373.5,616.6 375.6,615.0 377.7,613.6 379.7,612.2 381.8,611.0 383.9,609.8 386.0,608.7 388.0,607.7 390.1,606.8 392.2,605.8 394.2,605.0 396.3,604.2 398.4,603.4 400.5,602.6 402.5,601.9 404.6,601.2 406.7,600.5 408.7,599.9 410.8,599.2 412.9,598.6 415.0,598.1 417.0,597.5 419.1,597.0 421.2,596.4 423.2,595.9 425.3,595.4 427.4,594.9 429.5,594.5 431.5,594.0 433.6,593.5 435.7,593.1 437.7,592.7 439.8,592.3 441.9,591.9 444.0,591.5 446.0,591.1 448.1,590.7 450.2,590.3 452.2,590.0 454.3,589.6 456.4,589.2 458.5,588.9 460.5,588.6 462.6,588.2 464.7,587.9 466.7,587.6 468.8,587.3 470.9,587.0 472.9,586.7 475.0,586.4 477.1,586.1 479.2,585.8" fill="none" stroke="#7a3a10" stroke-width="3.3" stroke-linecap="round"/>
<polyline points="366.5,611.3 367.5,610.3 368.5,609.3 369.5,608.4 370.5,607.5 371.5,606.7 372.6,605.9 373.6,605.2 374.6,604.4 375.6,603.8 376.6,603.1 377.6,602.5 378.6,601.9 379.6,601.3 380.7,600.7 381.7,600.2 382.7,599.7 383.7,599.2 384.7,598.7 385.7,598.2 386.7,597.7 387.7,597.3 388.8,596.8 389.8,596.4 390.8,596.0 391.8,595.6 392.8,595.2 393.8,594.8 394.8,594.4 395.8,594.1 396.9,593.7 397.9,593.3 398.9,593.0 399.9,592.7 400.9,592.3 401.9,592.0 402.9,591.7 403.9,591.4 404.9,591.1 406.0,590.8 407.0,590.5 408.0,590.2 409.0,589.9 410.0,589.6 411.0,589.4 412.0,589.1 413.0,588.8 414.1,588.6 415.1,588.3 416.1,588.1 417.1,587.8 418.1,587.6 419.1,587.3 420.1,587.1 421.1,586.8 422.2,586.6 423.2,586.4 424.2,586.2 425.2,585.9 426.2,585.7 427.2,585.5" fill="none" stroke="#f0238f" stroke-width="3.3" stroke-linecap="round"/>
<line x1="531.5" y1="585.3" x2="531.5" y2="760" stroke="#7a7a7a" stroke-width="1.5" stroke-dasharray="3.2 2"/>
<circle cx="414.8" cy="557.9" r="3.2" fill="rgba(250,50,170,0.8)"/>
<circle cx="359.1" cy="578.1" r="3.2" fill="rgba(80,235,210,0.75)"/>
<circle cx="359.1" cy="581" r="3.2" fill="rgba(80,235,210,0.75)"/>
<circle cx="359.1" cy="585.7" r="3.2" fill="rgba(80,235,210,0.75)"/>
<circle cx="375.1" cy="585.1" r="3.2" fill="rgba(215,180,70,0.78)"/>
<circle cx="385" cy="586.3" r="3.2" fill="rgba(250,50,170,0.8)"/>
<circle cx="390.9" cy="586.9" r="3.2" fill="rgba(80,235,210,0.75)"/>
<circle cx="362.8" cy="593.3" r="3.2" fill="rgba(80,235,210,0.75)"/>
<circle cx="367.5" cy="597.4" r="3.2" fill="rgba(80,235,210,0.75)"/>
<circle cx="371.6" cy="597.4" r="3.2" fill="rgba(250,50,170,0.8)"/>
<circle cx="379.2" cy="596.2" r="3.2" fill="rgba(80,235,210,0.75)"/>
<circle cx="379.2" cy="600.3" r="3.2" fill="rgba(80,235,210,0.75)"/>
<circle cx="366.9" cy="603" r="3.2" fill="rgba(250,50,170,0.8)"/>
<circle cx="390.9" cy="592.7" r="3.2" fill="rgba(80,235,210,0.75)"/>
<circle cx="395" cy="595" r="3.2" fill="rgba(80,235,210,0.75)"/>
<circle cx="395" cy="599.7" r="3.2" fill="rgba(80,235,210,0.75)"/>
<circle cx="390.9" cy="602.6" r="3.2" fill="rgba(80,235,210,0.75)"/>
<circle cx="395" cy="604.4" r="3.2" fill="rgba(80,235,210,0.75)"/>
<circle cx="410.7" cy="585.1" r="3.2" fill="rgba(250,50,170,0.8)"/>
<circle cx="410.7" cy="588" r="3.2" fill="rgba(250,50,170,0.8)"/>
<circle cx="407.2" cy="593.9" r="3.2" fill="rgba(80,235,210,0.75)"/>
<circle cx="410.7" cy="601.5" r="3.2" fill="rgba(250,50,170,0.8)"/>
<circle cx="427.1" cy="590.4" r="3.2" fill="rgba(250,50,170,0.8)"/>
<circle cx="354.7" cy="611.4" r="3.2" fill="rgba(80,235,210,0.75)"/>
<circle cx="354.7" cy="614.3" r="3.2" fill="rgba(80,235,210,0.75)"/>
<circle cx="366.9" cy="612.6" r="3.2" fill="rgba(215,180,70,0.78)"/>
<circle cx="366.9" cy="616.6" r="3.2" fill="rgba(215,180,70,0.78)"/>
<circle cx="366.9" cy="620.7" r="3.2" fill="rgba(215,180,70,0.78)"/>
<circle cx="374.5" cy="621.9" r="3.2" fill="rgba(250,50,170,0.8)"/>
<circle cx="379.2" cy="622.8" r="3.2" fill="rgba(250,50,170,0.8)"/>
<text transform="translate(538.3,750.8) scale(1.0,1.1)" font-size="12" fill="#8f8f8f">45 years</text>
<text transform="translate(389.6,663.1) scale(1.0,1.1)" font-size="12" fill="#8f8f8f"><tspan font-style="italic">y</tspan> = 0.458 ln <tspan font-style="italic">x</tspan> - 1.749</text>
<text transform="translate(389.6,680.1) scale(1.0,1.1)" font-size="12" fill="#8f8f8f"><tspan font-style="italic">R</tspan><tspan dy="-4.5" font-size="8">2</tspan><tspan dy="4.5"> = 0.09, </tspan><tspan font-style="italic">p</tspan> &lt; 0.05, <tspan font-style="italic">n</tspan> = 71</text>
<text transform="translate(389.6,697.8) scale(1.0,1.1)" font-size="12" fill="#86502a"><tspan font-style="italic">y</tspan> = 0.856 ln <tspan font-style="italic">x</tspan> - 2.971</text>
<text transform="translate(389.6,714.5) scale(1.0,1.1)" font-size="12" fill="#86502a"><tspan font-style="italic">R</tspan><tspan dy="-4.5" font-size="8">2</tspan><tspan dy="4.5"> = 0.15, </tspan><tspan font-style="italic">p</tspan> &lt; 0.05, <tspan font-style="italic">n</tspan> = 32</text>
<text transform="translate(389.6,732.5) scale(1.0,1.1)" font-size="12" fill="#ea2f9c"><tspan font-style="italic">y</tspan> = 0.780 ln <tspan font-style="italic">x</tspan> - 2.287</text>
<text transform="translate(389.6,749.2) scale(1.0,1.1)" font-size="12" fill="#ea2f9c"><tspan font-style="italic">R</tspan><tspan dy="-4.5" font-size="8">2</tspan><tspan dy="4.5"> = 0.29, </tspan><tspan font-style="italic">p</tspan> &lt; 0.05, <tspan font-style="italic">n</tspan> = 16</text>
<text x="604.5" y="571.9" font-size="19.6" fill="#111">(f)</text>
<rect x="351.3" y="554.9" width="279.7" height="205.4" fill="none" stroke="#111" stroke-width="1.5"/>
<text transform="translate(635.5,591.1) scale(0.985,1.1)" font-size="15.3">0</text>
<text transform="translate(635.5,632.2) scale(0.985,1.1)" font-size="15.3">-2</text>
<text transform="translate(635.5,673.3) scale(0.985,1.1)" font-size="15.3">-4</text>
<text transform="translate(635.5,714.3) scale(0.985,1.1)" font-size="15.3">-6</text>
<text transform="translate(635.5,755.4) scale(0.985,1.1)" font-size="15.3">-8</text>
<rect x="52.6" y="857.7" width="279" height="8.3" fill="#e3e3e3"/>
<line x1="52.6" y1="861.6" x2="331.6" y2="861.6" stroke="#9a9a9a" stroke-width="1.1"/>
<path d="M92.5 988v-3.5 M132.3 988v-3.5 M172.2 988v-3.5 M212 988v-3.5 M251.9 988v-3.5 M291.7 988v-3.5 M52.6 798.9h3.5 M52.6 861.9h3.5 M52.6 925h3.5" stroke="#111" stroke-width="1.5" fill="none"/>
<circle cx="68.1" cy="790.1" r="3.2" fill="rgba(215,180,70,0.78)"/>
<circle cx="68.1" cy="816.6" r="3.2" fill="rgba(215,180,70,0.78)"/>
<circle cx="68.1" cy="818.4" r="3.2" fill="rgba(215,180,70,0.78)"/>
<circle cx="56.4" cy="846.1" r="3.2" fill="rgba(128,70,25,0.72)"/>
<circle cx="76.3" cy="848.1" r="3.2" fill="rgba(128,70,25,0.72)"/>
<circle cx="100.2" cy="842.8" r="3.2" fill="rgba(128,70,25,0.72)"/>
<circle cx="81" cy="850.1" r="3.2" fill="rgba(250,50,170,0.8)"/>
<circle cx="68.1" cy="852.8" r="3.2" fill="rgba(250,50,170,0.8)"/>
<circle cx="76.3" cy="855.7" r="3.2" fill="rgba(215,180,70,0.78)"/>
<circle cx="92" cy="855.7" r="3.2" fill="rgba(250,50,170,0.8)"/>
<circle cx="116" cy="855.5" r="3.2" fill="rgba(250,50,170,0.8)"/>
<circle cx="64" cy="856.9" r="3.2" fill="rgba(128,70,25,0.72)"/>
<circle cx="64" cy="859.8" r="3.2" fill="rgba(128,70,25,0.72)"/>
<circle cx="68.1" cy="864.1" r="3.2" fill="rgba(128,70,25,0.72)"/>
<circle cx="86.2" cy="861.8" r="3.2" fill="rgba(250,50,170,0.8)"/>
<circle cx="92" cy="861.5" r="3.2" fill="rgba(250,50,170,0.8)"/>
<circle cx="100.2" cy="862.1" r="3.2" fill="rgba(128,70,25,0.72)"/>
<circle cx="104.3" cy="863.9" r="3.2" fill="rgba(128,70,25,0.72)"/>
<circle cx="111.9" cy="863.3" r="3.2" fill="rgba(250,50,170,0.8)"/>
<circle cx="112.5" cy="869.1" r="3.2" fill="rgba(128,70,25,0.72)"/>
<circle cx="124.2" cy="873.2" r="3.2" fill="rgba(128,70,25,0.72)"/>
<circle cx="130" cy="877.3" r="3.2" fill="rgba(128,70,25,0.72)"/>
<circle cx="68.1" cy="873.8" r="3.2" fill="rgba(80,235,210,0.75)"/>
<circle cx="80.1" cy="871.5" r="3.2" fill="rgba(80,235,210,0.75)"/>
<circle cx="80.1" cy="879" r="3.2" fill="rgba(80,235,210,0.75)"/>
<circle cx="59.9" cy="880.8" r="3.2" fill="rgba(80,235,210,0.75)"/>
<circle cx="59.9" cy="887.8" r="3.2" fill="rgba(80,235,210,0.75)"/>
<circle cx="68.7" cy="881.4" r="3.2" fill="rgba(128,70,25,0.72)"/>
<circle cx="92" cy="870.3" r="3.2" fill="rgba(80,235,210,0.75)"/>
<circle cx="96.1" cy="870.3" r="3.2" fill="rgba(80,235,210,0.75)"/>
<circle cx="96.1" cy="873.8" r="3.2" fill="rgba(80,235,210,0.75)"/>
<circle cx="101.4" cy="870.9" r="3.2" fill="rgba(80,235,210,0.75)"/>
<circle cx="107.2" cy="875" r="3.2" fill="rgba(128,70,25,0.72)"/>
<circle cx="101.4" cy="873.2" r="3.2" fill="rgba(128,70,25,0.72)"/>
<circle cx="108.4" cy="871.5" r="3.2" fill="rgba(80,235,210,0.75)"/>
<circle cx="111.9" cy="877.3" r="3.2" fill="rgba(250,50,170,0.8)"/>
<circle cx="112.5" cy="889.6" r="3.2" fill="rgba(128,70,25,0.72)"/>
<circle cx="112.5" cy="889.6" r="3.2" fill="rgba(250,50,170,0.8)"/>
<circle cx="88" cy="895.4" r="3.2" fill="rgba(128,70,25,0.72)"/>
<circle cx="156.3" cy="850.4" r="3.2" fill="rgba(128,70,25,0.72)"/>
<polyline points="60.6,883.2 61.4,882.6 62.2,882.0 63.0,881.5 63.8,881.0 64.6,880.6 65.4,880.1 66.2,879.8 66.9,879.4 67.7,879.0 68.5,878.7 69.3,878.4 70.1,878.1 70.9,877.8 71.7,877.5 72.5,877.3 73.3,877.0 74.1,876.8 74.9,876.5 75.7,876.3 76.5,876.1 77.3,875.9 78.1,875.7 78.9,875.5 79.7,875.3 80.5,875.1 81.3,874.9 82.1,874.7 82.9,874.6 83.7,874.4 84.5,874.2 85.3,874.1 86.1,873.9 86.9,873.8 87.7,873.6 88.5,873.5 89.3,873.3 90.1,873.2 90.9,873.0 91.7,872.9 92.5,872.8 93.3,872.7 94.1,872.5 94.8,872.4 95.6,872.3 96.4,872.2 97.2,872.0 98.0,871.9 98.8,871.8 99.6,871.7 100.4,871.6 101.2,871.5 102.0,871.4 102.8,871.3 103.6,871.2 104.4,871.1 105.2,871.0 106.0,870.9 106.8,870.8 107.6,870.7 108.4,870.6" fill="none" stroke="#55dcc8" stroke-width="3.3" stroke-linecap="round"/>
<polyline points="67.7,850.3 68.6,850.7 69.4,851.1 70.2,851.5 71.0,851.9 71.9,852.3 72.7,852.7 73.5,853.1 74.3,853.5 75.2,853.9 76.0,854.3 76.8,854.7 77.6,855.1 78.5,855.5 79.3,855.9 80.1,856.3 80.9,856.7 81.7,857.1 82.6,857.5 83.4,857.9 84.2,858.3 85.0,858.7 85.9,859.1 86.7,859.6 87.5,860.0 88.3,860.4 89.2,860.8 90.0,861.2 90.8,861.6 91.6,862.0 92.5,862.4 93.3,862.8 94.1,863.2 94.9,863.6 95.8,864.0 96.6,864.4 97.4,864.8 98.2,865.2 99.0,865.6 99.9,866.0 100.7,866.4 101.5,866.8 102.3,867.2 103.2,867.6 104.0,868.0 104.8,868.4 105.6,868.8 106.5,869.2 107.3,869.7 108.1,870.1 108.9,870.5 109.8,870.9 110.6,871.3 111.4,871.7 112.2,872.1 113.0,872.5 113.9,872.9 114.7,873.3 115.5,873.7 116.3,874.1 117.2,874.5" fill="none" stroke="#f0238f" stroke-width="3.3" stroke-linecap="round"/>
<text transform="translate(197.1,910.5) scale(1.0,1.1)" font-size="12" fill="#ea2f9c"><tspan font-style="italic">y</tspan> = -0.062 <tspan font-style="italic">x</tspan> + 0.605</text>
<text transform="translate(197.1,926.9) scale(1.0,1.1)" font-size="12" fill="#ea2f9c"><tspan font-style="italic">R</tspan><tspan dy="-4.5" font-size="8">2</tspan><tspan dy="4.5"> = 0.42, </tspan><tspan font-style="italic">p</tspan> &lt; 0.05, <tspan font-style="italic">n</tspan> = 14</text>
<text transform="translate(197.1,945.3) scale(1.0,1.1)" font-size="12" fill="#5fd8c8"><tspan font-style="italic">y</tspan> = 0.205 ln <tspan font-style="italic">x</tspan> - 0.817</text>
<text transform="translate(197.1,961) scale(1.0,1.1)" font-size="12" fill="#5fd8c8"><tspan font-style="italic">R</tspan><tspan dy="-4.5" font-size="8">2</tspan><tspan dy="4.5"> = 0.75, </tspan><tspan font-style="italic">p</tspan> &lt; 0.01, <tspan font-style="italic">n</tspan> = 13</text>
<text x="303.9" y="799.6" font-size="19.6" fill="#111">(g)</text>
<rect x="52.6" y="783.1" width="279" height="204.9" fill="none" stroke="#111" stroke-width="1.5"/>
<text transform="translate(47.6,804.3) scale(0.985,1.1)" font-size="15.3" text-anchor="end">2</text>
<text transform="translate(47.6,867.3) scale(0.985,1.1)" font-size="15.3" text-anchor="end">0</text>
<text transform="translate(47.6,930.4) scale(0.985,1.1)" font-size="15.3" text-anchor="end">-2</text>
<text transform="translate(47.6,993.4) scale(0.985,1.1)" font-size="15.3" text-anchor="end">-4</text>
<rect x="351.4" y="849.8" width="279.5" height="3.5" fill="#ececec"/>
<line x1="351.4" y1="851.5" x2="630.9" y2="851.5" stroke="#999" stroke-width="1.1"/>
<path d="M391.3 988.5v-3.5 M431.3 988.5v-3.5 M471.2 988.5v-3.5 M511.1 988.5v-3.5 M551 988.5v-3.5 M591 988.5v-3.5 M630.9 851.5h-3.5 M630.9 920h-3.5" stroke="#111" stroke-width="1.5" fill="none"/>
<circle cx="390.9" cy="796.4" r="3.2" fill="rgba(128,70,25,0.72)"/>
<circle cx="411" cy="811.1" r="3.2" fill="rgba(128,70,25,0.72)"/>
<circle cx="423" cy="805.8" r="3.2" fill="rgba(250,50,170,0.8)"/>
<circle cx="390.9" cy="829.8" r="3.2" fill="rgba(128,70,25,0.72)"/>
<circle cx="398.8" cy="831.8" r="3.2" fill="rgba(140,40,250,0.8)"/>
<circle cx="403.1" cy="831" r="3.2" fill="rgba(140,40,250,0.8)"/>
<circle cx="414.8" cy="826.8" r="3.2" fill="rgba(140,40,250,0.8)"/>
<circle cx="411" cy="834.1" r="3.2" fill="rgba(140,40,250,0.8)"/>
<circle cx="411" cy="837.1" r="3.2" fill="rgba(250,50,170,0.8)"/>
<circle cx="411" cy="850.5" r="3.2" fill="rgba(128,70,25,0.72)"/>
<circle cx="411" cy="850.5" r="3.2" fill="rgba(250,50,170,0.8)"/>
<circle cx="406.6" cy="849.9" r="3.2" fill="rgba(140,40,250,0.8)"/>
<circle cx="395" cy="853.4" r="3.2" fill="rgba(250,50,170,0.8)"/>
<circle cx="423" cy="854" r="3.2" fill="rgba(140,40,250,0.8)"/>
<circle cx="390.9" cy="859.3" r="3.2" fill="rgba(250,50,170,0.8)"/>
<circle cx="411" cy="859" r="3.2" fill="rgba(250,50,170,0.8)"/>
<circle cx="387.4" cy="864.5" r="3.2" fill="rgba(128,70,25,0.72)"/>
<circle cx="371" cy="865.1" r="3.2" fill="rgba(128,70,25,0.72)"/>
<circle cx="383.3" cy="869.2" r="3.2" fill="rgba(80,235,210,0.75)"/>
<circle cx="411" cy="860.4" r="3.2" fill="rgba(250,50,170,0.8)"/>
<circle cx="411" cy="862.8" r="3.2" fill="rgba(250,50,170,0.8)"/>
<circle cx="423" cy="861.6" r="3.2" fill="rgba(215,180,70,0.78)"/>
<circle cx="362.8" cy="872.1" r="3.2" fill="rgba(250,50,170,0.8)"/>
<circle cx="362.8" cy="872.1" r="3.2" fill="rgba(128,70,25,0.72)"/>
<circle cx="362.8" cy="875.6" r="3.2" fill="rgba(128,70,25,0.72)"/>
<circle cx="378" cy="875" r="3.2" fill="rgba(140,40,250,0.8)"/>
<circle cx="374.5" cy="877.4" r="3.2" fill="rgba(250,50,170,0.8)"/>
<circle cx="379.8" cy="880.9" r="3.2" fill="rgba(250,50,170,0.8)"/>
<circle cx="366.9" cy="882.6" r="3.2" fill="rgba(215,180,70,0.78)"/>
<circle cx="379.2" cy="883.8" r="3.2" fill="rgba(215,180,70,0.78)"/>
<circle cx="379.2" cy="886.7" r="3.2" fill="rgba(128,70,25,0.72)"/>
<circle cx="394.4" cy="874.5" r="3.2" fill="rgba(250,50,170,0.8)"/>
<circle cx="386.2" cy="888.5" r="3.2" fill="rgba(250,50,170,0.8)"/>
<circle cx="390.9" cy="888.5" r="3.2" fill="rgba(250,50,170,0.8)"/>
<circle cx="414.6" cy="884.6" r="3.2" fill="rgba(250,50,170,0.8)"/>
<circle cx="419" cy="879.5" r="3.2" fill="rgba(250,50,170,0.8)"/>
<circle cx="423.1" cy="876.6" r="3.2" fill="rgba(250,50,170,0.8)"/>
<circle cx="358.2" cy="897.2" r="3.2" fill="rgba(128,70,25,0.72)"/>
<circle cx="358.2" cy="903.7" r="3.2" fill="rgba(128,70,25,0.72)"/>
<circle cx="357" cy="903.5" r="3.2" fill="rgba(128,70,25,0.72)"/>
<circle cx="375.1" cy="905" r="3.2" fill="rgba(215,180,70,0.78)"/>
<circle cx="379.2" cy="902.4" r="3.2" fill="rgba(215,180,70,0.78)"/>
<circle cx="390.9" cy="904.4" r="3.2" fill="rgba(250,50,170,0.8)"/>
<circle cx="407" cy="895.9" r="3.2" fill="rgba(80,235,210,0.75)"/>
<circle cx="358.8" cy="915.9" r="3.2" fill="rgba(128,70,25,0.72)"/>
<circle cx="354.1" cy="919.2" r="3.2" fill="rgba(80,235,210,0.75)"/>
<circle cx="371" cy="942" r="3.2" fill="rgba(250,50,170,0.8)"/>
<circle cx="366.9" cy="964.2" r="3.2" fill="rgba(80,235,210,0.75)"/>
<circle cx="366.9" cy="986.5" r="3.2" fill="rgba(250,50,170,0.8)"/>
<circle cx="491.1" cy="804.6" r="3.2" fill="rgba(140,40,250,0.8)"/>
<circle cx="491.1" cy="812.8" r="3.2" fill="rgba(140,40,250,0.8)"/>
<circle cx="491.1" cy="828.4" r="3.2" fill="rgba(140,40,250,0.8)"/>
<circle cx="438.7" cy="832.8" r="3.2" fill="rgba(140,40,250,0.8)"/>
<circle cx="434.6" cy="842" r="3.2" fill="rgba(140,40,250,0.8)"/>
<circle cx="455" cy="840.1" r="3.2" fill="rgba(140,40,250,0.8)"/>
<circle cx="425.8" cy="849.6" r="3.2" fill="rgba(140,40,250,0.8)"/>
<circle cx="422.9" cy="854" r="3.2" fill="rgba(140,40,250,0.8)"/>
<circle cx="470.8" cy="851.8" r="3.2" fill="rgba(250,50,170,0.8)"/>
<circle cx="470.8" cy="855.5" r="3.2" fill="rgba(250,50,170,0.8)"/>
<circle cx="431" cy="871.9" r="3.2" fill="rgba(140,40,250,0.8)"/>
<circle cx="422.9" cy="876.6" r="3.2" fill="rgba(250,50,170,0.8)"/>
<polyline points="359.4,902.5 360.3,898.9 361.1,895.6 362.0,892.6 362.8,889.9 363.7,887.3 364.6,884.9 365.4,882.7 366.3,880.6 367.2,878.6 368.0,876.7 368.9,875.0 369.8,873.3 370.6,871.7 371.5,870.1 372.4,868.6 373.2,867.2 374.1,865.9 375.0,864.5 375.8,863.3 376.7,862.0 377.6,860.9 378.4,859.7 379.3,858.6 380.1,857.5 381.0,856.5 381.9,855.5 382.7,854.5 383.6,853.6 384.5,852.6 385.3,851.7 386.2,850.8 387.1,850.0 387.9,849.1 388.8,848.3 389.7,847.5 390.5,846.7 391.4,846.0 392.3,845.2 393.1,844.5 394.0,843.7 394.9,843.0 395.7,842.4 396.6,841.7 397.5,841.0 398.3,840.4 399.2,839.7 400.0,839.1 400.9,838.5 401.8,837.9 402.6,837.3 403.5,836.7 404.4,836.1 405.2,835.5 406.1,835.0 407.0,834.4 407.8,833.9 408.7,833.3 409.6,832.8 410.4,832.3 411.3,831.8" fill="none" stroke="#7a3a10" stroke-width="3.3" stroke-linecap="round"/>
<polyline points="355.4,935.9 357.7,922.5 359.9,913.3 362.2,906.3 364.4,900.7 366.7,895.9 369.0,891.8 371.2,888.2 373.5,885.0 375.8,882.1 378.0,879.5 380.3,877.0 382.5,874.8 384.8,872.7 387.1,870.8 389.3,868.9 391.6,867.2 393.9,865.6 396.1,864.0 398.4,862.6 400.6,861.2 402.9,859.8 405.2,858.6 407.4,857.3 409.7,856.2 412.0,855.0 414.2,853.9 416.5,852.9 418.7,851.9 421.0,850.9 423.3,849.9 425.5,849.0 427.8,848.1 430.1,847.2 432.3,846.4 434.6,845.6 436.8,844.8 439.1,844.0 441.4,843.3 443.6,842.5 445.9,841.8 448.2,841.1 450.4,840.4 452.7,839.7 454.9,839.1 457.2,838.4 459.5,837.8 461.7,837.2 464.0,836.6 466.3,836.0 468.5,835.4 470.8,834.8 473.0,834.3 475.3,833.7 477.6,833.2 479.8,832.7 482.1,832.2 484.4,831.6 486.6,831.1 488.9,830.6 491.1,830.2" fill="none" stroke="#7f7f7f" stroke-width="3.3" stroke-linecap="round"/>
<polyline points="363.4,927.5 365.2,922.1 367.0,917.4 368.8,913.2 370.6,909.5 372.4,906.1 374.2,902.9 376.0,900.0 377.8,897.3 379.5,894.8 381.3,892.4 383.1,890.2 384.9,888.1 386.7,886.1 388.5,884.2 390.3,882.4 392.1,880.6 393.9,879.0 395.7,877.4 397.5,875.9 399.3,874.4 401.1,873.0 402.9,871.7 404.7,870.3 406.5,869.1 408.3,867.9 410.1,866.7 411.9,865.5 413.7,864.4 415.5,863.3 417.3,862.2 419.1,861.2 420.9,860.2 422.7,859.2 424.5,858.3 426.3,857.4 428.1,856.4 429.9,855.6 431.7,854.7 433.5,853.8 435.2,853.0 437.0,852.2 438.8,851.4 440.6,850.6 442.4,849.9 444.2,849.1 446.0,848.4 447.8,847.7 449.6,847.0 451.4,846.3 453.2,845.6 455.0,844.9 456.8,844.3 458.6,843.6 460.4,843.0 462.2,842.4 464.0,841.7 465.8,841.1 467.6,840.5 469.4,839.9 471.2,839.4" fill="none" stroke="#f0238f" stroke-width="3.3" stroke-linecap="round"/>
<polyline points="377.8,866.8 379.6,865.0 381.5,863.3 383.4,861.7 385.3,860.2 387.2,858.8 389.1,857.5 391.0,856.2 392.9,855.0 394.8,853.8 396.7,852.7 398.5,851.6 400.4,850.6 402.3,849.6 404.2,848.7 406.1,847.8 408.0,846.9 409.9,846.0 411.8,845.2 413.7,844.4 415.6,843.6 417.4,842.9 419.3,842.1 421.2,841.4 423.1,840.7 425.0,840.0 426.9,839.4 428.8,838.7 430.7,838.1 432.6,837.5 434.5,836.9 436.3,836.3 438.2,835.7 440.1,835.2 442.0,834.6 443.9,834.1 445.8,833.6 447.7,833.0 449.6,832.5 451.5,832.0 453.4,831.6 455.2,831.1 457.1,830.6 459.0,830.1 460.9,829.7 462.8,829.2 464.7,828.8 466.6,828.4 468.5,828.0 470.4,827.5 472.3,827.1 474.1,826.7 476.0,826.3 477.9,825.9 479.8,825.5 481.7,825.2 483.6,824.8 485.5,824.4 487.4,824.1 489.3,823.7 491.1,823.3" fill="none" stroke="#7a10f2" stroke-width="3.3" stroke-linecap="round"/>
<line x1="439" y1="851.5" x2="439" y2="988" stroke="#f0238f" stroke-width="1.5" stroke-dasharray="3.2 2"/>
<text transform="translate(393.2,978.5) scale(1.0,1.1)" font-size="12" fill="#ea2f9c">22 years</text>
<text transform="translate(497.8,863.7) scale(1.0,1.1)" font-size="12" fill="#8f8f8f"><tspan font-style="italic">y</tspan> = 0.868 ln <tspan font-style="italic">x</tspan> - 2.463</text>
<text transform="translate(497.8,880.3) scale(1.0,1.1)" font-size="12" fill="#8f8f8f"><tspan font-style="italic">R</tspan><tspan dy="-4.5" font-size="8">2</tspan><tspan dy="4.5"> = 0.42, </tspan><tspan font-style="italic">p</tspan> &lt; 0.01, <tspan font-style="italic">n</tspan> = 64</text>
<text transform="translate(497.8,896.7) scale(1.0,1.1)" font-size="12" fill="#86502a"><tspan font-style="italic">y</tspan> = 1.025 ln <tspan font-style="italic">x</tspan> - 2.200</text>
<text transform="translate(497.8,913.8) scale(1.0,1.1)" font-size="12" fill="#86502a"><tspan font-style="italic">R</tspan><tspan dy="-4.5" font-size="8">2</tspan><tspan dy="4.5"> = 0.65, </tspan><tspan font-style="italic">p</tspan> &lt; 0.01, <tspan font-style="italic">n</tspan> = 16</text>
<text transform="translate(497.8,930.8) scale(1.0,1.1)" font-size="12" fill="#ea2f9c"><tspan font-style="italic">y</tspan> = 1.117 ln <tspan font-style="italic">x</tspan> - 3.445</text>
<text transform="translate(497.8,947.5) scale(1.0,1.1)" font-size="12" fill="#ea2f9c"><tspan font-style="italic">R</tspan><tspan dy="-4.5" font-size="8">2</tspan><tspan dy="4.5"> = 0.38, </tspan><tspan font-style="italic">p</tspan> &lt; 0.01, <tspan font-style="italic">n</tspan> = 23</text>
<text transform="translate(497.8,963.9) scale(1.0,1.1)" font-size="12" fill="#8a3cf0"><tspan font-style="italic">y</tspan> = 0.760 ln <tspan font-style="italic">x</tspan> - 1.880</text>
<text transform="translate(497.8,981) scale(1.0,1.1)" font-size="12" fill="#8a3cf0"><tspan font-style="italic">R</tspan><tspan dy="-4.5" font-size="8">2</tspan><tspan dy="4.5"> = 0.39, </tspan><tspan font-style="italic">p</tspan> &lt; 0.01, <tspan font-style="italic">n</tspan> = 16</text>
<text x="354.6" y="801" font-size="19.2" fill="#111">(h)</text>
<rect x="351.4" y="783" width="279.5" height="205.5" fill="none" stroke="#111" stroke-width="1.5"/>
<text transform="translate(635.4,788.4) scale(0.985,1.1)" font-size="15.3">2</text>
<text transform="translate(635.4,856.9) scale(0.985,1.1)" font-size="15.3">0</text>
<text transform="translate(635.4,925.4) scale(0.985,1.1)" font-size="15.3">-2</text>
<text transform="translate(635.4,993.9) scale(0.985,1.1)" font-size="15.3">-4</text>
<text x="51.6" y="14.5" font-size="19.3" fill="#111">Salt marshes</text>
<text x="51.6" y="532.8" font-size="19.3" fill="#111">Mangroves</text>
<text x="0" y="0" font-size="15.6" text-anchor="middle" transform="translate(13.3,140.3) rotate(-90) scale(1,1.09)">lnRR of soil C</text>
<text x="0" y="0" font-size="15.6" text-anchor="middle" transform="translate(13.1,369.6) rotate(-90) scale(1,1.09)">lnRR of C/N ratio</text>
<text x="0" y="0" font-size="15.6" text-anchor="middle" transform="translate(12.8,656.4) rotate(-90) scale(1,1.09)">lnRR of soil C</text>
<text x="0" y="0" font-size="15.6" text-anchor="middle" transform="translate(13.2,884.5) rotate(-90) scale(1,1.09)">lnRR of C/N ratio</text>
<text x="0" y="0" font-size="15.6" text-anchor="middle" transform="translate(672.2,150.2) rotate(90) scale(1,1.09)">lnRR of soil N</text>
<text x="0" y="0" font-size="15.6" text-anchor="middle" transform="translate(671.0,368.8) rotate(90) scale(1,1.09)">lnRR of plant biomass C</text>
<text x="0" y="0" font-size="15.6" text-anchor="middle" transform="translate(669.4,666.7) rotate(90) scale(1,1.09)">lnRR of soil N</text>
<text x="0" y="0" font-size="15.6" text-anchor="middle" transform="translate(670.7,887.5) rotate(90) scale(1,1.09)">lnRR of plant biomass C</text>
<text transform="translate(343.5,1033) scale(1.0,1.1)" font-size="16" fill="#111" text-anchor="middle">Years after restoration</text>
<text transform="translate(52.1,488.2) scale(0.975,1.1)" font-size="15.3" fill="#111" text-anchor="middle">0</text>
<text transform="translate(92.3,488.2) scale(0.975,1.1)" font-size="15.3" fill="#111" text-anchor="middle">10</text>
<text transform="translate(132.5,488.2) scale(0.975,1.1)" font-size="15.3" fill="#111" text-anchor="middle">20</text>
<text transform="translate(172.7,488.2) scale(0.975,1.1)" font-size="15.3" fill="#111" text-anchor="middle">30</text>
<text transform="translate(212.9,488.2) scale(0.975,1.1)" font-size="15.3" fill="#111" text-anchor="middle">40</text>
<text transform="translate(253.1,488.2) scale(0.975,1.1)" font-size="15.3" fill="#111" text-anchor="middle">50</text>
<text transform="translate(293.3,488.2) scale(0.975,1.1)" font-size="15.3" fill="#111" text-anchor="middle">60</text>
<text transform="translate(333.5,488.2) scale(0.975,1.1)" font-size="15.3" fill="#111" text-anchor="middle">70</text>
<text transform="translate(52.1,1006) scale(0.975,1.1)" font-size="15.3" fill="#111" text-anchor="middle">0</text>
<text transform="translate(92.3,1006) scale(0.975,1.1)" font-size="15.3" fill="#111" text-anchor="middle">10</text>
<text transform="translate(132.5,1006) scale(0.975,1.1)" font-size="15.3" fill="#111" text-anchor="middle">20</text>
<text transform="translate(172.7,1006) scale(0.975,1.1)" font-size="15.3" fill="#111" text-anchor="middle">30</text>
<text transform="translate(212.9,1006) scale(0.975,1.1)" font-size="15.3" fill="#111" text-anchor="middle">40</text>
<text transform="translate(253.1,1006) scale(0.975,1.1)" font-size="15.3" fill="#111" text-anchor="middle">50</text>
<text transform="translate(293.3,1006) scale(0.975,1.1)" font-size="15.3" fill="#111" text-anchor="middle">60</text>
<text transform="translate(333.5,1006) scale(0.975,1.1)" font-size="15.3" fill="#111" text-anchor="middle">70</text>
<text transform="translate(351.5,488.2) scale(0.975,1.1)" font-size="15.3" fill="#111" text-anchor="middle">0</text>
<text transform="translate(391.7,488.2) scale(0.975,1.1)" font-size="15.3" fill="#111" text-anchor="middle">10</text>
<text transform="translate(431.9,488.2) scale(0.975,1.1)" font-size="15.3" fill="#111" text-anchor="middle">20</text>
<text transform="translate(472.1,488.2) scale(0.975,1.1)" font-size="15.3" fill="#111" text-anchor="middle">30</text>
<text transform="translate(512.4,488.2) scale(0.975,1.1)" font-size="15.3" fill="#111" text-anchor="middle">40</text>
<text transform="translate(552.6,488.2) scale(0.975,1.1)" font-size="15.3" fill="#111" text-anchor="middle">50</text>
<text transform="translate(592.8,488.2) scale(0.975,1.1)" font-size="15.3" fill="#111" text-anchor="middle">60</text>
<text transform="translate(633.0,488.2) scale(0.975,1.1)" font-size="15.3" fill="#111" text-anchor="middle">70</text>
<text transform="translate(351.5,1006) scale(0.975,1.1)" font-size="15.3" fill="#111" text-anchor="middle">0</text>
<text transform="translate(391.7,1006) scale(0.975,1.1)" font-size="15.3" fill="#111" text-anchor="middle">10</text>
<text transform="translate(431.9,1006) scale(0.975,1.1)" font-size="15.3" fill="#111" text-anchor="middle">20</text>
<text transform="translate(472.1,1006) scale(0.975,1.1)" font-size="15.3" fill="#111" text-anchor="middle">30</text>
<text transform="translate(512.4,1006) scale(0.975,1.1)" font-size="15.3" fill="#111" text-anchor="middle">40</text>
<text transform="translate(552.6,1006) scale(0.975,1.1)" font-size="15.3" fill="#111" text-anchor="middle">50</text>
<text transform="translate(592.8,1006) scale(0.975,1.1)" font-size="15.3" fill="#111" text-anchor="middle">60</text>
<text transform="translate(633.0,1006) scale(0.975,1.1)" font-size="15.3" fill="#111" text-anchor="middle">70</text>
</svg></body></html>
